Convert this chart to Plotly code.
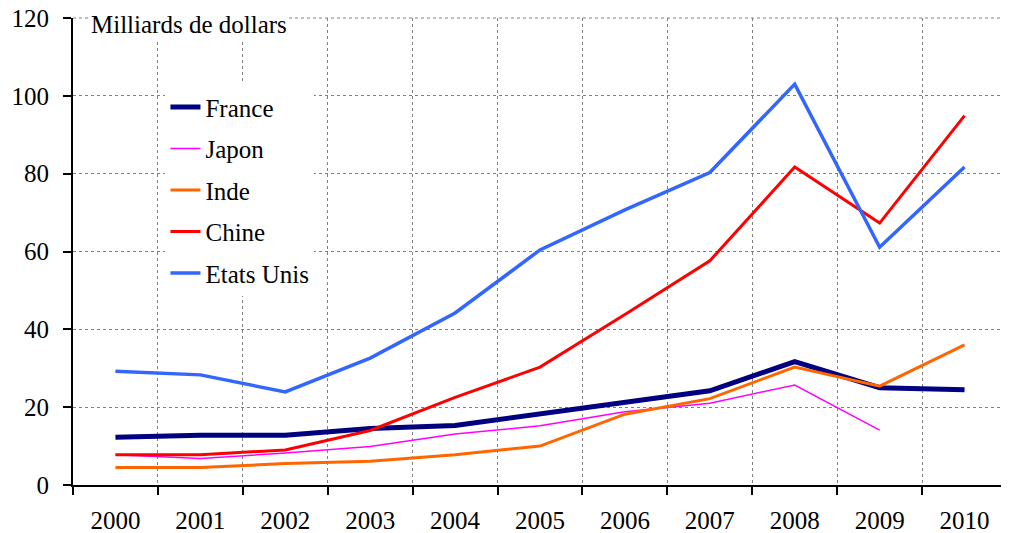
import plotly.graph_objects as go

years = ["2000", "2001", "2002", "2003", "2004", "2005", "2006", "2007", "2008", "2009", "2010"]
france = [12.3, 12.8, 12.8, 14.5, 15.3, 18.2, 21.3, 24.2, 31.7, 25.0, 24.5]
japon = [7.8, 6.8, 8.2, 9.9, 13.1, 15.2, 18.8, 21.0, 25.7, 14.1, None]
inde = [4.5, 4.5, 5.5, 6.1, 7.8, 10.0, 18.2, 22.2, 30.3, 25.4, 36.0]
chine = [7.8, 7.8, 9.0, 14.0, 22.5, 30.3, 43.8, 57.6, 81.7, 67.3, 94.9]
etats_unis = [29.2, 28.3, 23.9, 32.6, 44.2, 60.4, 70.7, 80.3, 103.0, 61.1, 81.7]

series = [
    ("France", france, "#000080", 5),
    ("Japon", japon, "#FF00FF", 1.5),
    ("Inde", inde, "#FF6600", 3),
    ("Chine", chine, "#FF0000", 3),
    ("Etats Unis", etats_unis, "#3366FF", 3.5),
]

font_family = "Times New Roman, Liberation Serif, DejaVu Serif, serif"
FS = 25

fig = go.Figure()
for i, (name, vals, color, width) in enumerate(series):
    fig.add_trace(go.Scatter(
        x=years, y=vals, name=name, mode="lines",
        line=dict(color=color, width=width),
        legendgroup=f"g{i}",
        connectgaps=False,
    ))

grid_line = dict(color="#808080", width=1, dash="dot")

# page body has an 8px default margin, so the figure is offset by 8px
fig.update_layout(
    width=1001, height=525,
    margin=dict(l=65, r=2, t=10, b=48),
    paper_bgcolor="white", plot_bgcolor="white",
    font=dict(family=font_family, size=FS, color="black"),
    showlegend=True,
    legend=dict(
        x=0.099, y=0.858, xanchor="left", yanchor="top",
        bgcolor="white", borderwidth=0,
        font=dict(family=font_family, size=FS, color="black"),
        traceorder="grouped", tracegroupgap=6,
    ),
    xaxis=dict(
        type="category", range=[-0.5, 10.5], automargin=False,
        tickson="boundaries", ticks="outside", ticklen=8, tickwidth=2, tickcolor="black",
        showline=True, linecolor="black", linewidth=2,
        showgrid=True, gridcolor="#808080", griddash="dot", gridwidth=1,
        ticklabelstandoff=12,
        tickfont=dict(family=font_family, size=FS),
        zeroline=False,
    ),
    yaxis=dict(
        range=[0, 120], dtick=20, tick0=0, automargin=False,
        ticks="outside", ticklen=8, tickwidth=2, tickcolor="black",
        showline=True, linecolor="black", linewidth=2,
        showgrid=True, gridcolor="#808080", griddash="dot", gridwidth=1,
        tickfont=dict(family=font_family, size=FS),
        ticklabeloverflow="allow",
        zeroline=False, ticklabelstandoff=9,
    ),
    shapes=[
        dict(type="line", xref="paper", yref="paper", x0=1, x1=1, y0=0, y1=1,
             line=grid_line, layer="below"),
        dict(type="line", xref="paper", yref="paper", x0=0, x1=1, y0=1, y1=1,
             line=grid_line, layer="below"),
    ],
    annotations=[dict(
        text="Milliards de dollars", xref="paper", yref="paper",
        x=0.017, y=0.987, xanchor="left", yanchor="middle", showarrow=False,
        font=dict(family=font_family, size=FS, color="black"),
        bgcolor="white",
    )],
)

fig.write_html("out.html")
